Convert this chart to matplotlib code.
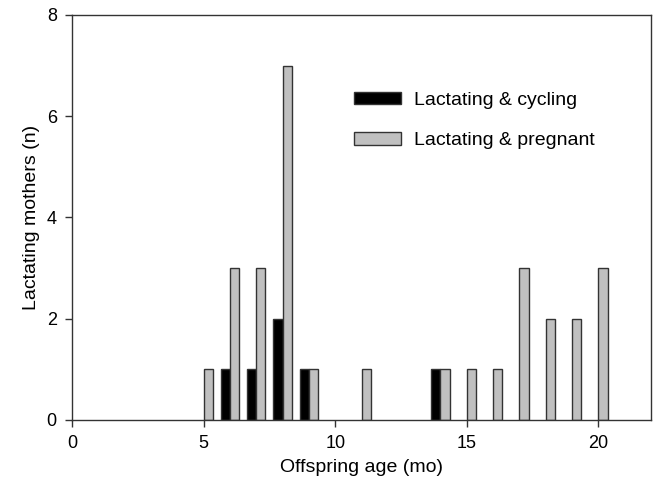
import numpy as np
import matplotlib.pyplot as plt

plt.rcParams['font.family'] = ['Liberation Sans', 'DejaVu Sans']

# Offspring age (months) and counts of lactating mothers per group
age_mo = [5, 6, 7, 8, 9, 11, 14, 15, 16, 17, 18, 19, 20]
cycling = [0, 1, 1, 2, 1, 0, 1, 0, 0, 0, 0, 0, 0]
pregnant = [1, 3, 3, 7, 1, 1, 1, 1, 1, 3, 2, 2, 3]

bar_w = 0.35
edge = '#333333'

fig = plt.figure(figsize=(6.56, 4.87), dpi=100)
ax = fig.add_axes([0.1098, 0.1376, 0.8826, 0.8316])

x = np.array(age_mo, dtype=float)
cyc = np.array(cycling)
prg = np.array(pregnant)
m = cyc > 0
ax.bar(x[m], cyc[m], width=bar_w, align='edge', color='black',
       edgecolor=edge, linewidth=1.0, label='Lactating & cycling')
ax.bar(x, prg, width=bar_w, align='edge', color='#c0c0c0',
       edgecolor=edge, linewidth=1.0, label='Lactating & pregnant')
# cycling bars sit just left of each integer age
for b in ax.containers[0]:
    b.set_x(b.get_x() - bar_w)

ax.set_xlim(0, 22)
ax.set_ylim(0, 8)
ax.set_xticks([0, 5, 10, 15, 20])
ax.set_yticks([0, 2, 4, 6, 8])
ax.tick_params(direction='out', length=5, width=1.0, color=edge,
               labelsize=13, pad=6)
for s in ax.spines.values():
    s.set_color(edge)
    s.set_linewidth(1.0)

ax.set_xlabel('Offspring age (mo)', fontsize=14, labelpad=5)
ax.set_ylabel('Lactating mothers (n)', fontsize=14, labelpad=5)

ax.legend(loc='upper left', bbox_to_anchor=(0.487, 0.81), frameon=False,
          fontsize=14, handlelength=2.4, handleheight=0.6,
          handletextpad=0.7, labelspacing=1.2, borderpad=0, borderaxespad=0)

fig.savefig('out.png', dpi=100)
